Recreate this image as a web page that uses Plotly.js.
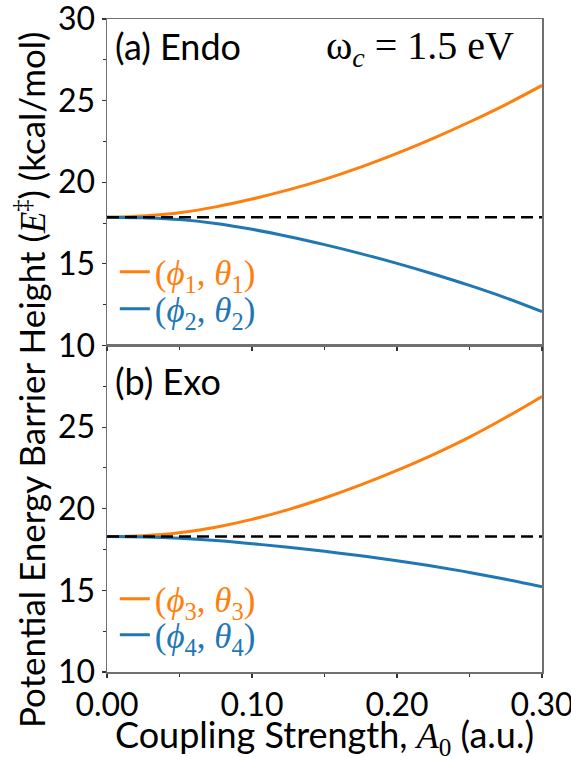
<!DOCTYPE html>
<html>
<head>
<meta charset="utf-8">
<script src="https://cdn.plot.ly/plotly-3.0.1.min.js"></script>
<style>html,body{margin:0;padding:0;background:#fff;}</style>
</head>
<body>
<div id="chart" style="width:571px;height:757px;"></div>
<script>
// Coupling strength A0 (a.u.)
const A0 = [0, 0.025, 0.05, 0.075, 0.10, 0.125, 0.15, 0.175, 0.20, 0.225, 0.25, 0.275, 0.30];
// (a) Endo
const endoPhi1 = [17.86, 17.93, 18.13, 18.49, 18.97, 19.53, 20.18, 20.93, 21.77, 22.69, 23.69, 24.76, 25.93];
const endoPhi2 = [17.86, 17.82, 17.72, 17.48, 17.12, 16.68, 16.18, 15.63, 15.03, 14.38, 13.68, 12.92, 12.07];
const endoBaseline = 17.86;
// (b) Exo
const exoPhi3 = [18.30, 18.35, 18.53, 18.87, 19.35, 19.95, 20.66, 21.46, 22.35, 23.32, 24.39, 25.59, 26.88];
const exoPhi4 = [18.30, 18.27, 18.19, 18.05, 17.86, 17.64, 17.39, 17.12, 16.82, 16.48, 16.10, 15.68, 15.22];
const exoBaseline = 18.30;
// tick labels
const xTickVals = [0, 0.1, 0.2, 0.3];
const xTickText = ['0.00', '0.10', '0.20', '0.30'];
const yTickVals = [10, 15, 20, 25, 30];
const yTickTextTop = ['10', '15', '20', '25', '30'];
const yTickTextBottom = ['10', '15', '20', '25', ''];
const yMinorVals = [12.5, 17.5, 22.5, 27.5];
const labels = {
  endoUp: '(<i>ϕ</i><sub>1</sub>, <i>θ</i><sub>1</sub>)',
  endoDn: '(<i>ϕ</i><sub>2</sub>, <i>θ</i><sub>2</sub>)',
  exoUp: '(<i>ϕ</i><sub>3</sub>, <i>θ</i><sub>3</sub>)',
  exoDn: '(<i>ϕ</i><sub>4</sub>, <i>θ</i><sub>4</sub>)'
};

const ORANGE = '#ff7f0e', BLUE = '#1f77b4';
const colored = (t, c) => '<span style="color:' + c + '">' + t + '</span>';
const xEnds = [A0[0], A0[A0.length - 1]];

const traces = [
  {x: A0, y: endoPhi1, xaxis: 'x2', yaxis: 'y2', legend: 'legend', name: colored(labels.endoUp, ORANGE),
   mode: 'lines', line: {color: ORANGE, width: 3, shape: 'spline'}},
  {x: A0, y: endoPhi2, xaxis: 'x2', yaxis: 'y2', legend: 'legend2', name: colored(labels.endoDn, BLUE),
   mode: 'lines', line: {color: BLUE, width: 3, shape: 'spline'}},
  {x: xEnds, y: [endoBaseline, endoBaseline], xaxis: 'x2', yaxis: 'y2', showlegend: false,
   mode: 'lines', line: {color: '#000', width: 2.5, dash: '12px,6px'}},
  {x: A0, y: exoPhi3, xaxis: 'x', yaxis: 'y', legend: 'legend3', name: colored(labels.exoUp, ORANGE),
   mode: 'lines', line: {color: ORANGE, width: 3, shape: 'spline'}},
  {x: A0, y: exoPhi4, xaxis: 'x', yaxis: 'y', legend: 'legend4', name: colored(labels.exoDn, BLUE),
   mode: 'lines', line: {color: BLUE, width: 3, shape: 'spline'}},
  {x: xEnds, y: [exoBaseline, exoBaseline], xaxis: 'x', yaxis: 'y', showlegend: false,
   mode: 'lines', line: {color: '#000', width: 2.5, dash: '12px,6px'}}
];

const SPINE = '#707070';
const TICKFONT = {family: 'Lato', size: 32, color: '#000'};
const common = {
  showline: true, mirror: true, linecolor: SPINE, linewidth: 1.5,
  ticks: 'outside', ticklen: 4, tickwidth: 1.2, tickcolor: '#333',
  showgrid: false, zeroline: false, tickfont: TICKFONT, ticklabeloverflow: 'allow'
};
const xMinor = {dtick: 0.05, tick0: 0, ticks: 'outside', ticklen: 3, tickwidth: 1, tickcolor: '#333', showgrid: false};
const yMinor = {tickmode: 'array', tickvals: yMinorVals, ticks: 'outside', ticklen: 3, tickwidth: 1, tickcolor: '#333', showgrid: false};

const legendBase = (y) => ({x: 0.018, y: y, xanchor: 'left', yanchor: 'middle', bgcolor: 'rgba(0,0,0,0)', borderwidth: 0,
  font: {family: 'Liberation Serif', size: 35, color: '#000'}});

const layout = {
  width: 571, height: 757,
  margin: {l: 107, r: 29, t: 19, b: 85},
  paper_bgcolor: '#fff', plot_bgcolor: '#fff',
  font: {family: 'Lato', color: '#000'},
  xaxis: Object.assign({}, common, {
    domain: [0, 1], anchor: 'y', range: [0, 0.3],
    tickmode: 'array', tickvals: xTickVals, ticktext: xTickText, minor: xMinor
  }),
  xaxis2: Object.assign({}, common, {
    domain: [0, 1], anchor: 'y2', range: [0, 0.3], matches: 'x',
    tickmode: 'array', tickvals: xTickVals, ticktext: xTickText, showticklabels: false, minor: xMinor
  }),
  yaxis: Object.assign({}, common, {
    domain: [0, 0.5], anchor: 'x', range: [10, 30],
    tickmode: 'array', tickvals: yTickVals, ticktext: yTickTextBottom, minor: yMinor
  }),
  yaxis2: Object.assign({}, common, {
    domain: [0.5, 1], anchor: 'x2', range: [10, 30],
    tickmode: 'array', tickvals: yTickVals, ticktext: yTickTextTop, minor: yMinor
  }),
  legend: legendBase(0.6126),
  legend2: legendBase(0.5559),
  legend3: legendBase(0.1118),
  legend4: legendBase(0.0567),
  annotations: [
    {text: '(a) Endo', xref: 'paper', yref: 'paper', x: 0.014, y: 0.9587, xanchor: 'left', yanchor: 'middle',
     showarrow: false, font: {family: 'Lato', size: 36, color: '#000'}},
    {text: 'ω<sub><i>c</i></sub> = 1.5 eV', xref: 'paper', yref: 'paper', x: 0.94, y: 0.955, xanchor: 'right', yanchor: 'middle',
     showarrow: false, font: {family: 'Liberation Serif', size: 40, color: '#000'}},
    {text: '(b) Exo', xref: 'paper', yref: 'paper', x: 0.014, y: 0.4456, xanchor: 'left', yanchor: 'middle',
     showarrow: false, font: {family: 'Lato', size: 36, color: '#000'}},
    {text: 'Coupling Strength, <span style="font-family:Liberation Serif"><i>A</i><sub>0</sub></span> (a.u.)',
     xref: 'paper', yref: 'paper', x: 0.5, y: -0.0995, xanchor: 'center', yanchor: 'middle',
     showarrow: false, font: {family: 'Lato', size: 36, color: '#000'}},
    {text: 'Potential Energy Barrier Height (<span style="font-family:Liberation Serif"><i>E</i><sup>‡</sup></span>) (kcal/mol)',
     xref: 'paper', yref: 'paper', x: -0.1747, y: 0.4472, xanchor: 'center', yanchor: 'middle', textangle: -90,
     showarrow: false, font: {family: 'Lato', size: 35, color: '#000'}}
  ]
};

Plotly.newPlot('chart', traces, layout, {displayModeBar: false, staticPlot: true});
</script>
</body>
</html>
